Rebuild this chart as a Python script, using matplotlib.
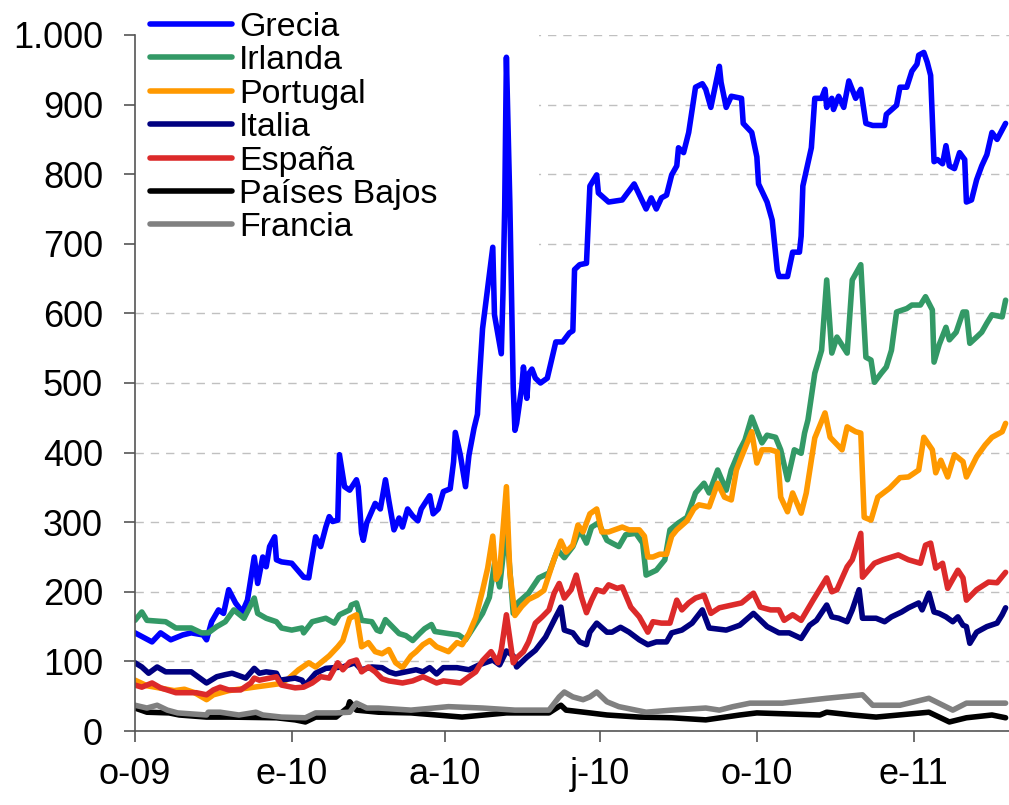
import numpy as np
import matplotlib
matplotlib.use("Agg")
import matplotlib.pyplot as plt
from matplotlib.patches import Rectangle
from matplotlib.ticker import FuncFormatter

plt.rcParams["font.family"] = ["Liberation Sans", "DejaVu Sans"]

# diferenciales frente al bund alemán (pb); fechas como días desde el 1-oct-2009
grecia_dias = [0, 10, 15, 21, 28, 33, 40, 42, 45, 49,
               52, 55, 59, 63, 66, 70, 72, 75, 77, 79,
               82, 83, 86, 92, 99, 102, 103, 106, 109, 112,
               114, 116, 119, 120, 123, 126, 130, 131, 133, 134,
               136, 141, 144, 147, 149, 152, 155, 157, 160, 163,
               166, 168, 173, 175, 178, 181, 185, 187, 188, 191,
               194, 196, 199, 201, 202, 204, 207, 210, 211, 215,
               216, 217, 218, 220, 222, 223, 224, 227, 228, 230,
               231, 233, 235, 238, 242, 247, 251, 255, 257, 258,
               261, 265, 267, 271, 272, 278, 286, 293, 300, 303,
               306, 309, 312, 315, 318, 319, 322, 325, 329, 333,
               335, 338, 343, 344, 347, 350, 356, 357, 362, 365,
               366, 371, 374, 377, 378, 383, 386, 390, 391, 392,
               394, 397, 399, 403, 405, 406, 409, 410, 413, 416,
               419, 423, 426, 429, 433, 440, 441, 447, 449, 453,
               456, 459, 460, 463, 465, 467, 469, 471, 474, 476,
               478, 481, 484, 487, 488, 491, 494, 497, 500, 503,
               506, 511]
grecia = [141, 128, 141, 131, 138, 141, 138, 131, 157, 174,
          169, 203, 184, 171, 188, 250, 212, 250, 236, 265,
          279, 246, 243, 241, 221, 220, 236, 279, 265, 293,
          308, 301, 303, 397, 351, 346, 361, 351, 284, 274,
          299, 327, 319, 361, 331, 289, 306, 293, 319, 309,
          302, 319, 338, 312, 319, 344, 348, 387, 429, 396,
          351, 396, 435, 455, 500, 578, 637, 695, 598, 542,
          630, 753, 968, 760, 494, 432, 442, 494, 523, 478,
          513, 520, 507, 500, 507, 559, 559, 572, 575, 663,
          670, 672, 783, 799, 773, 760, 763, 786, 750, 766,
          750, 766, 770, 799, 812, 838, 831, 860, 925, 930,
          922, 896, 955, 932, 896, 912, 909, 873, 860, 825,
          786, 760, 734, 662, 653, 653, 688, 688, 711, 783,
          805, 838, 909, 909, 922, 896, 909, 893, 912, 896,
          934, 909, 922, 873, 870, 870, 886, 899, 925, 925,
          948, 958, 971, 975, 961, 942, 818, 821, 815, 841,
          812, 808, 831, 821, 760, 763, 792, 812, 828, 860,
          850, 873]

irlanda_dias = [0, 4, 7, 18, 24, 33, 39, 43, 48, 53,
                58, 64, 70, 72, 77, 83, 86, 92, 98, 99,
                104, 112, 117, 120, 126, 127, 130, 133, 139, 142,
                144, 147, 151, 155, 159, 163, 167, 170, 174, 176,
                184, 190, 194, 199, 204, 208, 211, 214, 218, 222,
                225, 231, 237, 243, 248, 252, 257, 261, 265, 268,
                272, 277, 280, 284, 288, 294, 298, 300, 306, 311,
                314, 319, 324, 329, 334, 337, 342, 347, 350, 355,
                358, 362, 365, 368, 371, 376, 379, 383, 387, 391,
                393, 395, 399, 403, 406, 409, 412, 418, 421, 426,
                429, 432, 434, 438, 441, 444, 447, 453, 456, 461,
                464, 468, 469, 472, 476, 478, 482, 486, 488, 490,
                494, 497, 500, 503, 509, 511]
irlanda = [159, 171, 159, 157, 148, 148, 141, 141, 150, 157,
           174, 162, 191, 169, 162, 157, 148, 145, 148, 141,
           157, 162, 155, 167, 174, 181, 184, 159, 157, 145,
           143, 160, 150, 140, 137, 130, 140, 147, 153, 143,
           140, 138, 131, 150, 169, 192, 240, 207, 295, 169,
           185, 198, 220, 227, 260, 249, 265, 289, 270, 293,
           299, 274, 270, 265, 282, 284, 270, 224, 231, 246,
           289, 299, 307, 342, 356, 342, 375, 346, 375, 404,
           418, 451, 432, 414, 425, 422, 404, 361, 404, 399,
           428, 447, 514, 547, 648, 543, 566, 543, 648, 670,
           537, 533, 501, 514, 523, 547, 602, 607, 612, 612,
           624, 605, 530, 555, 580, 562, 573, 602, 602, 557,
           566, 573, 586, 598, 595, 619]

portugal_dias = [0, 7, 14, 23, 29, 35, 42, 46, 55, 67,
                 76, 85, 90, 96, 102, 106, 114, 119, 122, 126,
                 130, 133, 137, 141, 145, 149, 153, 157, 162, 165,
                 169, 173, 177, 181, 184, 189, 192, 196, 200, 204,
                 207, 210, 212, 214, 218, 220, 223, 227, 231, 236,
                 240, 246, 250, 253, 257, 260, 263, 267, 271, 274,
                 278, 286, 290, 296, 299, 301, 304, 308, 312, 315,
                 318, 324, 328, 331, 337, 342, 346, 350, 353, 356,
                 362, 365, 368, 373, 377, 379, 383, 386, 391, 394,
                 399, 405, 408, 415, 418, 423, 426, 428, 432, 436,
                 443, 449, 454, 460, 463, 468, 470, 473, 477, 481,
                 486, 488, 494, 499, 503, 509, 511]
portugal = [73, 65, 62, 58, 60, 55, 45, 52, 58, 62,
            65, 68, 75, 88, 98, 92, 108, 121, 130, 162,
            167, 121, 127, 114, 111, 117, 98, 91, 108, 114,
            124, 130, 121, 117, 114, 127, 124, 140, 163, 202,
            234, 280, 218, 228, 351, 228, 166, 179, 189, 195,
            202, 247, 273, 257, 267, 296, 286, 312, 319, 286,
            286, 293, 289, 289, 280, 250, 250, 254, 254, 280,
            289, 302, 319, 325, 322, 356, 336, 332, 375, 394,
            430, 385, 404, 404, 401, 336, 315, 342, 313, 342,
            421, 457, 422, 404, 437, 430, 428, 307, 303, 336,
            349, 364, 365, 375, 422, 404, 371, 389, 365, 397,
            387, 365, 394, 411, 422, 430, 442]

italia_dias = [0, 4, 8, 13, 18, 33, 42, 48, 53, 57,
               65, 70, 73, 77, 83, 85, 94, 98, 100, 106,
               112, 122, 129, 133, 139, 145, 149, 153, 165, 169,
               173, 177, 181, 189, 196, 202, 210, 214, 218, 222,
               224, 230, 235, 241, 247, 250, 252, 257, 261, 265,
               267, 271, 277, 280, 285, 290, 296, 301, 306, 312,
               315, 321, 327, 333, 337, 347, 355, 363, 371, 378,
               384, 391, 396, 400, 406, 409, 413, 418, 421, 425,
               427, 435, 440, 444, 450, 454, 460, 462, 466, 469,
               472, 476, 480, 483, 486, 488, 490, 494, 500, 506,
               509, 511]
italia = [98, 92, 83, 92, 85, 85, 69, 78, 81, 83,
          76, 90, 83, 85, 83, 73, 76, 73, 66, 83,
          90, 92, 98, 88, 92, 91, 85, 82, 88, 85,
          91, 82, 91, 91, 88, 95, 102, 95, 115, 108,
          92, 106, 116, 135, 164, 178, 145, 141, 128, 124,
          142, 155, 142, 142, 149, 142, 131, 124, 128, 128,
          141, 145, 155, 174, 148, 145, 152, 169, 150, 141,
          141, 133, 152, 159, 181, 164, 162, 157, 174, 203,
          162, 162, 157, 164, 171, 177, 184, 174, 198, 171,
          169, 164, 157, 164, 152, 150, 126, 142, 150, 155,
          167, 177]

espana_dias = [0, 4, 10, 15, 24, 36, 42, 46, 50, 55,
               62, 68, 70, 73, 79, 83, 86, 94, 99, 104,
               109, 114, 119, 122, 126, 130, 133, 137, 141, 145,
               149, 157, 163, 169, 177, 181, 191, 196, 200, 204,
               209, 213, 215, 218, 222, 224, 228, 231, 235, 239,
               243, 246, 249, 252, 256, 259, 262, 265, 268, 271,
               275, 278, 283, 286, 291, 296, 301, 304, 309, 314,
               318, 321, 325, 329, 334, 338, 343, 356, 363, 367,
               373, 378, 381, 386, 391, 398, 406, 409, 412, 418,
               421, 426, 427, 434, 439, 448, 454, 461, 464, 467,
               470, 474, 477, 483, 486, 488, 494, 501, 506, 511]
espana = [66, 63, 69, 62, 55, 55, 52, 59, 63, 59,
          59, 69, 76, 73, 76, 78, 66, 62, 63, 69,
          78, 76, 98, 88, 99, 102, 85, 92, 85, 75,
          72, 69, 72, 78, 69, 72, 69, 78, 85, 101,
          114, 98, 117, 167, 98, 105, 114, 128, 155, 164,
          174, 198, 212, 191, 203, 224, 193, 170, 188, 203,
          200, 210, 205, 207, 178, 164, 142, 157, 155, 155,
          188, 174, 184, 191, 195, 169, 177, 184, 198, 178,
          174, 174, 159, 167, 159, 188, 220, 200, 203, 236,
          246, 284, 221, 241, 246, 253, 246, 241, 267, 270,
          234, 241, 205, 231, 220, 188, 203, 214, 213, 228]

pbajos_dias = [0, 7, 20, 26, 42, 55, 83, 94, 100, 106,
               118, 125, 126, 130, 143, 162, 192, 218, 243, 250,
               253, 267, 277, 296, 315, 335, 355, 365, 402, 406,
               421, 435, 466, 478, 488, 503, 511]
pbajos = [33, 27, 26, 23, 20, 20, 19, 16, 13, 20,
          20, 34, 42, 30, 27, 26, 20, 26, 26, 37,
          30, 26, 23, 20, 19, 16, 23, 26, 23, 27,
          23, 20, 27, 13, 19, 23, 19]

francia_dias = [0, 7, 13, 19, 25, 42, 43, 50, 61, 71,
                75, 86, 100, 106, 118, 126, 130, 136, 143, 162,
                184, 204, 223, 243, 249, 252, 257, 263, 267, 271,
                277, 284, 300, 315, 335, 343, 351, 361, 380, 406,
                427, 433, 449, 466, 480, 488, 511]
francia = [37, 33, 37, 30, 26, 23, 27, 27, 23, 27,
           23, 20, 19, 26, 26, 27, 40, 33, 33, 30,
           35, 33, 30, 30, 49, 56, 49, 45, 49, 56,
           42, 35, 27, 30, 33, 30, 35, 40, 40, 47,
           52, 37, 37, 47, 30, 40, 40]

paises = ["Grecia", "Irlanda", "Portugal", "Italia", "España", "Países Bajos", "Francia"]
colores = ["#0000ff", "#339966", "#ff9900", "#000080", "#dc2a2a", "#000000", "#808080"]
series = [(grecia_dias, grecia), (irlanda_dias, irlanda), (portugal_dias, portugal),
          (italia_dias, italia), (espana_dias, espana), (pbajos_dias, pbajos),
          (francia_dias, francia)]

marcas = ["2009-10-01", "2010-01-01", "2010-04-01", "2010-07-01", "2010-10-01", "2011-01-01"]
etiquetas = ["o-09", "e-10", "a-10", "j-10", "o-10", "e-11"]

inicio = np.datetime64("2009-10-01")

fig = plt.figure(figsize=(10.09, 8.05), dpi=100)
ax = fig.add_axes([135 / 1009, 74 / 805, 874 / 1009, 696 / 805])

# fondo blanco de la leyenda (tapa la rejilla, no las series)
ax.add_patch(Rectangle((0, 0.662), 0.462, 0.4, transform=ax.transAxes,
                       facecolor="white", edgecolor="none", zorder=1, clip_on=False))

for nombre, color, (dias, vals) in zip(paises, colores, series):
    fechas = inicio + np.array(dias).astype("timedelta64[D]")
    ax.plot(fechas, vals, color=color, lw=4, label=nombre, zorder=2,
            solid_joinstyle="round", solid_capstyle="round")

ax.set_ylim(0, 1000)
ax.set_xlim(inicio, inicio + np.timedelta64(513, "D"))

ax.set_yticks(range(0, 1001, 100))
ax.yaxis.set_major_formatter(FuncFormatter(lambda v, p: f"{int(v):,}".replace(",", ".")))
ax.set_xticks(np.array(marcas, dtype="datetime64[D]"))
ax.set_xticklabels(etiquetas)

ax.tick_params(axis="y", length=8, width=1.2, pad=15, labelsize=26, color="#555555")
ax.tick_params(axis="x", length=8, width=1.2, pad=11, labelsize=26, color="#555555")

ax.yaxis.grid(True, color="#c0c0c0", linestyle=(0, (6, 5)), linewidth=1)
ax.set_axisbelow(True)

for s in ["top", "right"]:
    ax.spines[s].set_visible(False)
for s in ["left", "bottom"]:
    ax.spines[s].set_color("#555555")
    ax.spines[s].set_linewidth(1.2)

ax.legend(loc="upper left", bbox_to_anchor=(15 / 874, 719 / 696), frameon=False,
          fontsize=24.5, handlelength=2.4, handletextpad=0.22, labelspacing=0.07,
          borderpad=0, borderaxespad=0)

fig.savefig("out.png", dpi=100)
